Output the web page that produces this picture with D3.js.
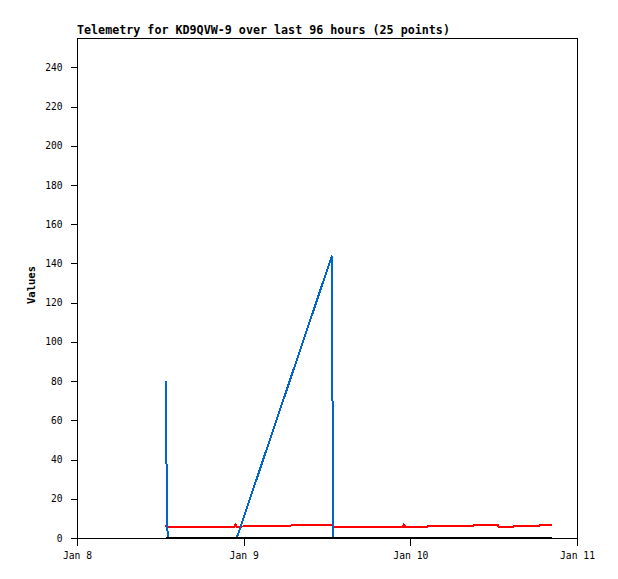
<!DOCTYPE html>
<html><head><meta charset="utf-8">
<script src="https://cdn.jsdelivr.net/npm/d3@7/dist/d3.min.js"></script>
<style>
body{margin:0;background:#fff;}
svg{display:block;}
</style></head>
<body>
<svg id="chart" width="618" height="579"></svg>
<script>
const titleText = "Telemetry for KD9QVW-9 over last 96 hours (25 points)";
const yLabel = "Values";
const xTickDates = ["2024-01-08T00:00","2024-01-09T00:00","2024-01-10T00:00","2024-01-11T00:00"];
const yTicks = [0,20,40,60,80,100,120,140,160,180,200,220,240];
const times = [
  "2024-01-08T12:47","2024-01-08T12:53","2024-01-08T13:03","2024-01-08T17:43",
  "2024-01-08T22:40","2024-01-08T22:49","2024-01-08T23:00","2024-01-09T12:43",
  "2024-01-09T12:52","2024-01-09T22:57","2024-01-09T23:05","2024-01-09T23:14",
  "2024-01-10T02:28","2024-01-10T02:37","2024-01-10T09:06","2024-01-10T09:14",
  "2024-01-10T12:33","2024-01-10T12:42","2024-01-10T14:52","2024-01-10T15:00",
  "2024-01-10T18:36","2024-01-10T18:44","2024-01-10T20:28"
];
const blueValues  = [80,40,0,0, 0,0,0,144, 0,0,0,0, 0,0,0,0, 0,0,0,0, 0,0,0];
const redValues   = [6.8,5.8,5.8,5.8, 5.8,6.8,5.8,6.8, 5.8,5.8,6.8,5.8, 5.8,6.3,6.3,6.8, 6.8,5.8,5.8,6.2, 6.2,6.8,6.8];
const blackValues = [0,0,0,0, 0,0,0,0, 0,0,0,0, 0,0,0,0, 0,0,0,0, 0,0,0];

const parse = d3.timeParse("%Y-%m-%dT%H:%M");
const svg = d3.select("#chart");
const L = 77, R = 577, T = 38, B = 538;

const x = d3.scaleTime()
  .domain([parse(xTickDates[0]), parse(xTickDates[xTickDates.length-1])])
  .range([L, R]);
const y = d3.scaleLinear().domain([0,255]).range([B, T]);

// frame
svg.append("rect").attr("x", L+0.5).attr("y", T+0.5)
  .attr("width", R-L).attr("height", B-T)
  .attr("fill","none").attr("stroke","#000").attr("stroke-width",1)
  .attr("shape-rendering","crispEdges");

// y axis
const yAxis = svg.append("g").attr("transform", `translate(${L+0.5},0)`)
  .call(d3.axisLeft(y).tickValues(yTicks).tickSize(7).tickSizeOuter(0).tickPadding(8));
yAxis.select(".domain").remove();
yAxis.selectAll("line").attr("stroke","#000").attr("shape-rendering","crispEdges");
yAxis.selectAll("text").attr("font-family","DejaVu Sans Mono").attr("font-size","9.6px").attr("fill","#000");

// x axis
const xAxis = svg.append("g").attr("transform", `translate(0,${B+0.5})`)
  .call(d3.axisBottom(x).tickValues(xTickDates.map(parse)).tickSize(7).tickSizeOuter(0)
    .tickFormat(d3.timeFormat("Jan %-d")));
xAxis.select(".domain").remove();
xAxis.selectAll("line").attr("stroke","#000").attr("shape-rendering","crispEdges");
xAxis.selectAll("text").attr("font-family","DejaVu Sans Mono").attr("font-size","9.7px")
  .attr("fill","#000").attr("y", 14).attr("dy","0.71em");

// series
const pts = times.map((t,i)=>({t:parse(t), b:blueValues[i], r:redValues[i], k:blackValues[i]}));
const line = key => d3.line().x(d=>x(d.t)).y(d=>y(d[key]));
svg.append("path").datum(pts).attr("d", line("r")).attr("fill","none")
  .attr("stroke","#ff0000").attr("stroke-width",2).attr("shape-rendering","crispEdges");
svg.append("path").datum(pts).attr("d", line("b")).attr("fill","none")
  .attr("stroke","#0066cc").attr("stroke-width",2).attr("shape-rendering","crispEdges");
svg.append("path").datum(pts).attr("d", line("k")).attr("fill","none")
  .attr("stroke","#000").attr("stroke-width",2).attr("shape-rendering","crispEdges");

// title
svg.append("text").attr("x", L).attr("y", 34).text(titleText)
  .attr("font-family","DejaVu Sans Mono").attr("font-weight","bold").attr("font-size","11.7px");

// y label
svg.append("text").attr("transform", `translate(35,${(T+B)/2-3}) rotate(-90)`)
  .attr("text-anchor","middle").text(yLabel)
  .attr("font-family","DejaVu Sans Mono").attr("font-weight","bold").attr("font-size","10.5px");
</script>
</body></html>
